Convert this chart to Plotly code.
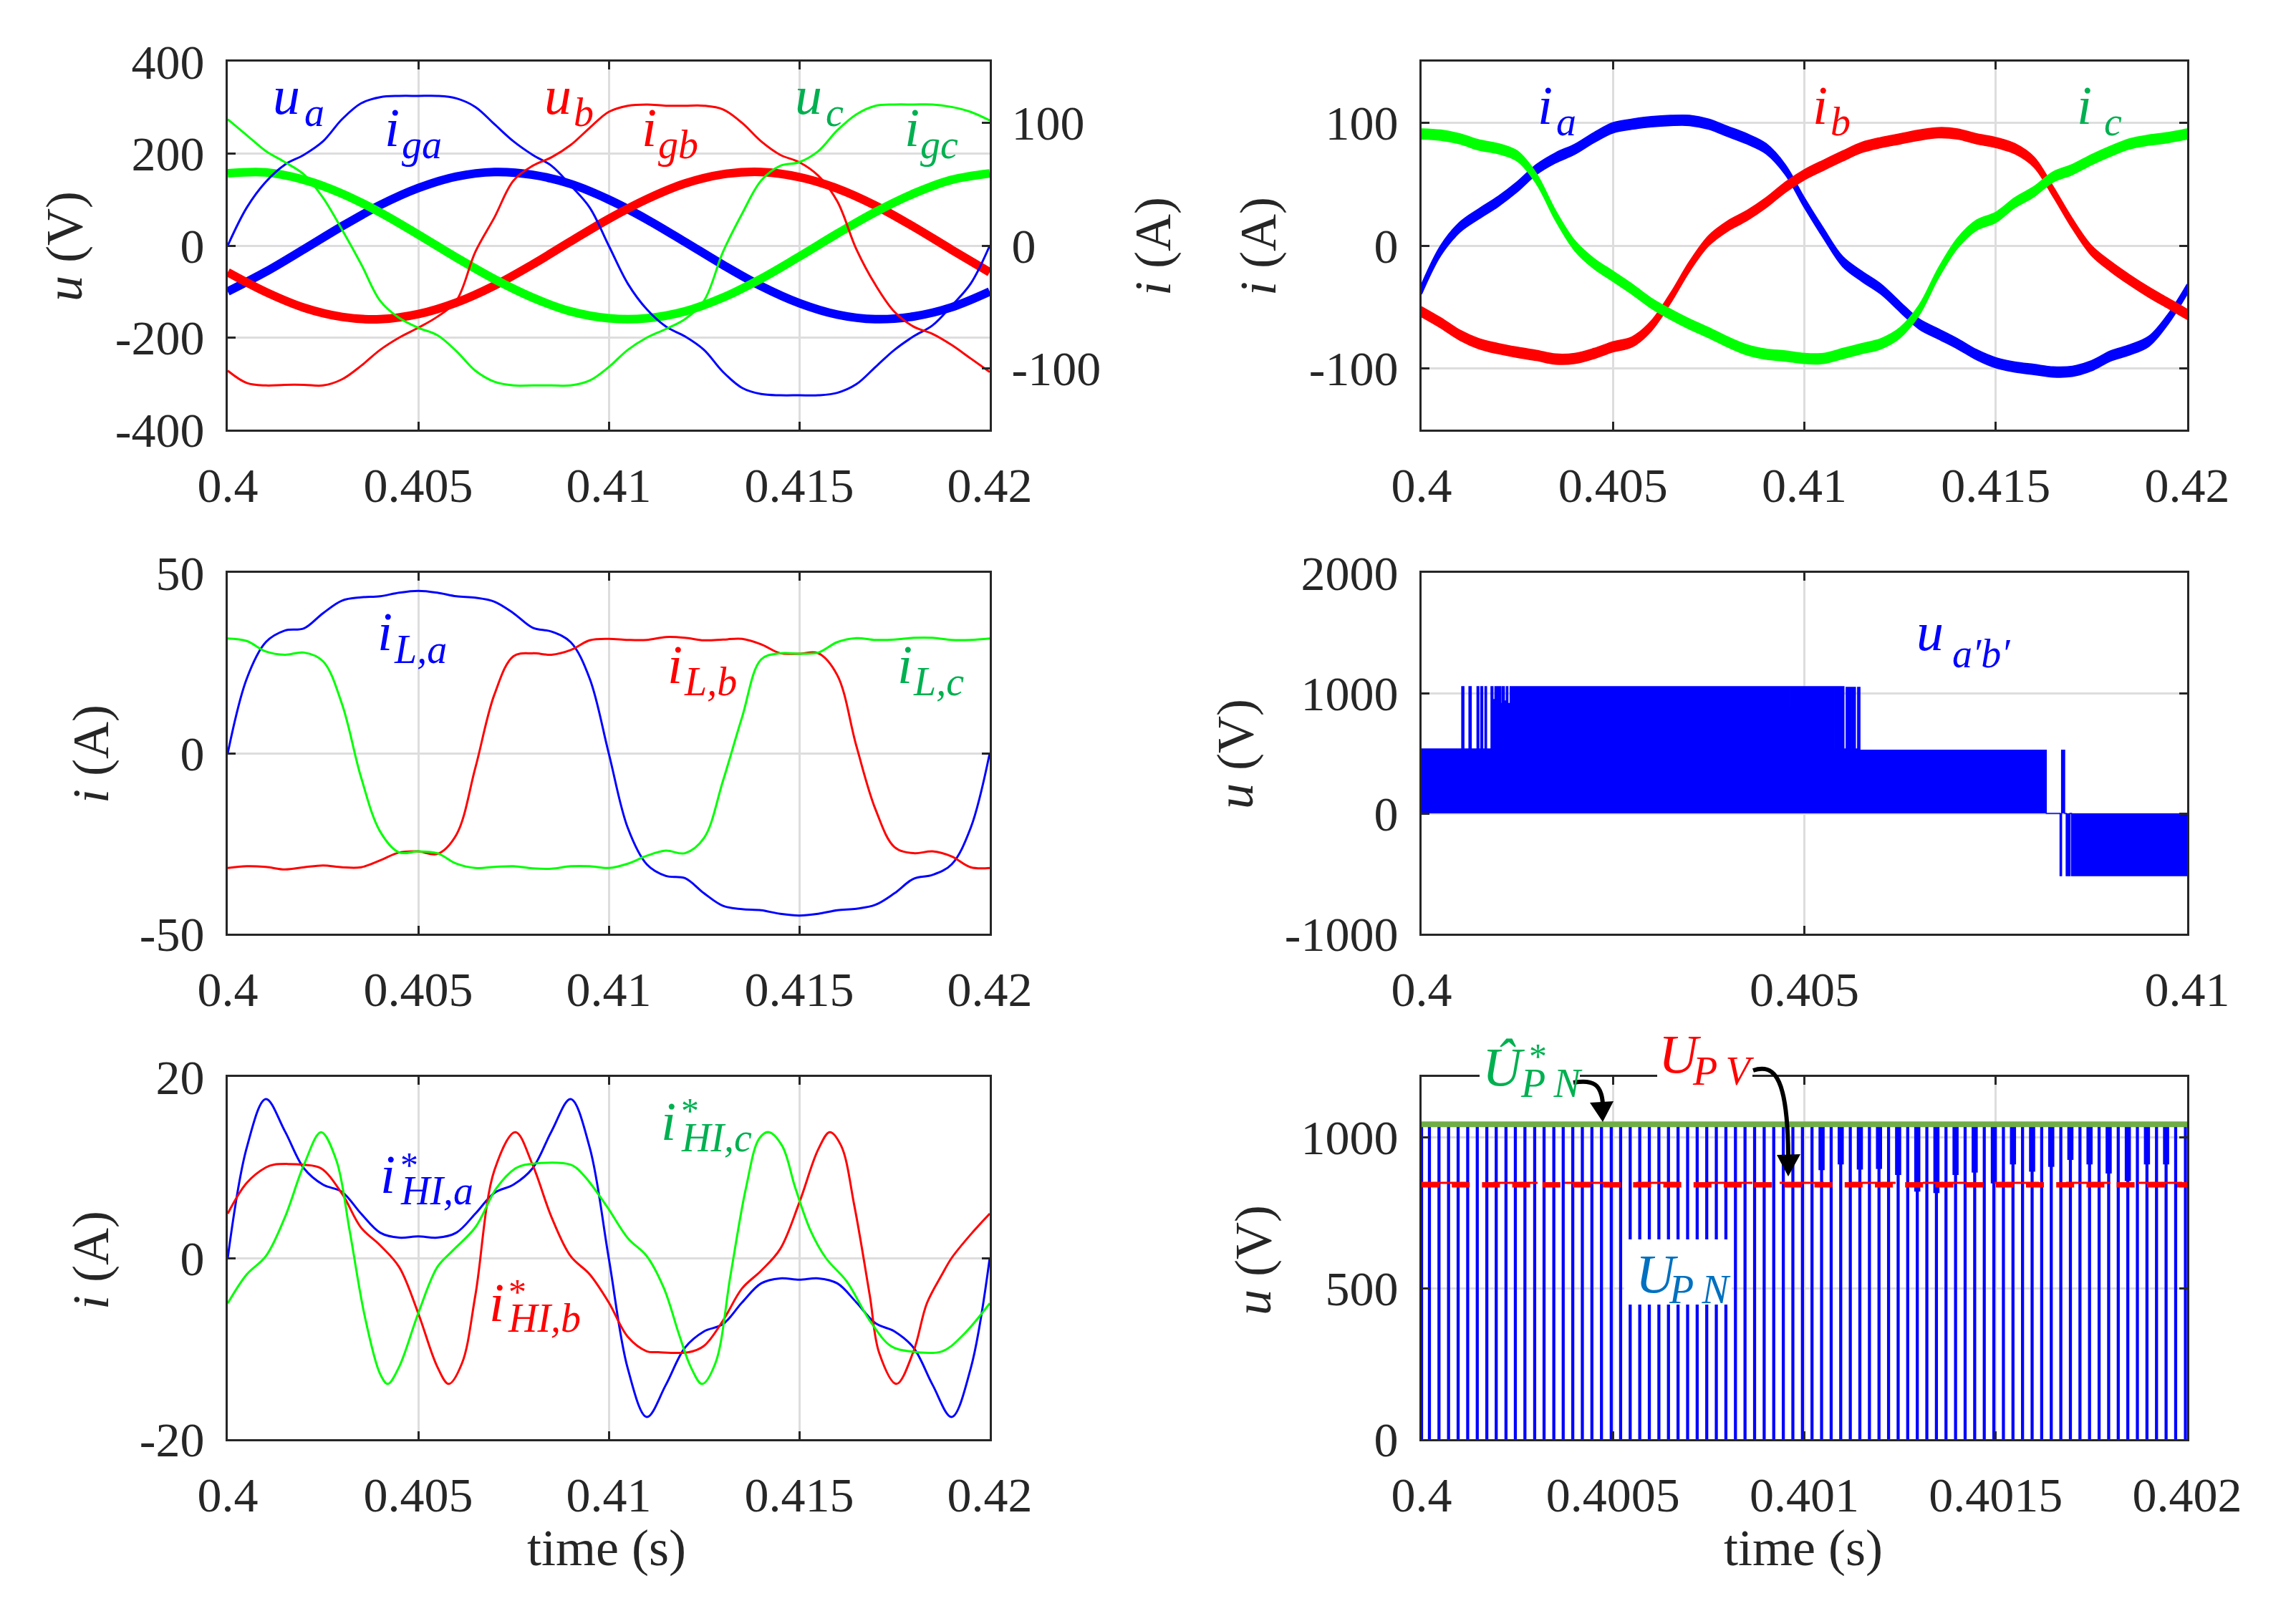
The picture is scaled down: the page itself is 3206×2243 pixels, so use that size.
import numpy as np
import plotly.graph_objects as go

W, H = 3206, 2243
PAGE_MARGIN = 8  # default body margin of the written page
FONT = "Liberation Serif"
INK = "#262626"
GRID = "#dddddd"
BLUE, RED, LIME = "#0000ff", "#ff0000", "#00ff00"
LABEL_GREEN = "#00b050"
LABEL_BLUE = "#0070c0"

t_grid = np.linspace(0.4, 0.42, 41)
t_coarse = np.linspace(0.4, 0.42, 21)

# top left, phase voltages (V)
u_a = [-100, -57, -8, 42, 88, 125, 150, 160, 154, 134, 100, 57, 8, -42, -88, -125, -150, -160, -154, -134, -100]
u_b = [-58, -101, -135, -155, -160, -149, -124, -87, -41, 9, 58, 101, 135, 155, 160, 149, 124, 87, 41, -9, -58]
u_c = [157, 159, 143, 113, 72, 24, -26, -73, -113, -143, -158, -158, -143, -113, -72, -24, 26, 73, 113, 143, 157]

# top left, grid currents (A)
i_ga = [0, 31, 52, 66, 74, 85, 103, 116, 121, 122, 122, 122, 120, 113, 99, 85, 74, 65, 49, 31, 0,
        -31, -52, -66, -74, -85, -103, -116, -121, -122, -122, -122, -120, -113, -99, -85, -74, -65, -49, -31, 0]
i_gb = [-102, -112, -114, -113.5, -113.5, -114, -109, -98, -85, -75, -67, -58, -45, -5, 23, 53, 65, 72, 82, 96, 109,
        114, 115, 114, 114, 114, 111, 100, 85, 74, 68, 57, 36, -3, -32, -54, -66, -72, -81, -92, -103]
i_gc = [103, 90, 77, 68, 58, 39, 13, -15, -45, -59, -67, -73, -86, -102, -111, -114, -114, -114, -114, -110, -99,
        -85, -75, -68, -60, -45, -5, 26, 53, 65, 68, 77, 94, 107, 114, 115, 115, 115, 113, 109, 102]

i_a = [-35.5, -4, 15, 26, 36, 48, 62, 71.5, 78.5, 88, 96, 99, 101, 102, 102, 99, 93, 87, 79, 62, 35,
       10, -13, -25, -35.5, -50, -64, -72, -80, -89, -95.5, -99, -101, -103, -102.5, -98, -90, -85, -78, -60, -35.5]
i_b = [-54, -63, -73, -80, -84, -87, -89.5, -92.5, -92, -88, -82.5, -78.5, -65.5, -43, -17, 4, 16, 24.5, 35, 47.5, 57.7,
       65.5, 73, 80, 84, 87, 90, 92, 91, 87, 84, 79, 68, 44, 18, -4, -17, -28, -38, -47, -56]
i_c = [91, 90, 87, 82, 79, 73, 54.5, 24.5, 0, -14.6, -25, -35.5, -47, -56, -64, -71, -78.6, -85, -88.5, -90, -92,
       -92, -88, -84, -80, -71, -52.5, -22.5, 2, 16.7, 23, 35, 44, 56, 62, 70, 77, 83, 86, 88, 91]
ripple = 4.2

# middle left, inductor currents (A)
i_la = [0, 20.7, 30.8, 34, 34.6, 38.8, 42.3, 43.2, 43.5, 44.5, 45, 44.5, 43.5, 43.1, 42, 38.8, 34.8, 33.7, 30.8, 20.7, 0,
        -20.7, -30.8, -34, -34.6, -38.8, -42.3, -43.2, -43.5, -44.5, -45, -44.5, -43.5, -43.1, -42, -38.8, -34.8, -33.7, -30.8, -20.7, 0]
i_lb = [-31.8, -31.3, -31.5, -32.2, -31.6, -31.1, -31.6, -31.6, -29.7, -27.5, -27.2, -27.9, -22.6, -4, 16.3, 26.9, 27.7, 27.3, 28.6, 31.3, 31.7,
        31.4, 31.4, 32.2, 32, 31.3, 31.5, 31.7, 30.2, 27.7, 27.6, 27.7, 21.6, 2, -15.5, -26, -27.7, -27.2, -28.6, -31.6, -31.8]
i_lc = [31.8, 31.1, 28.2, 27.3, 27.9, 25.5, 13.6, -6.7, -21.7, -27.5, -27.2, -27.7, -30.6, -31.8, -31.5, -31.3, -31.9, -32, -31.3, -31.3, -31.8,
        -30.6, -28.4, -27, -27.7, -23.5, -7.6, 10, 26, 27.7, 27.6, 27.9, 30.8, 31.9, 31.4, 31.5, 32, 32, 31.4, 31.4, 31.8]

# bottom left, harmonic current references (A), each with its own read-off times (ms)
i_hi_a = [0, 12.2, 17.55, 14, 9.9, 8.1, 7.3, 4.9, 2.8, 2.25, 2.4, 2.25, 2.8, 4.9, 7.2, 8.1, 9.9, 14, 17.55, 12.2, 0,
          -12.2, -17.55, -14, -9.9, -8.1, -7.3, -4.9, -2.8, -2.25, -2.4, -2.25, -2.8, -4.9, -7.2, -8.1, -9.9, -14, -17.55, -12.2, 0]
t_hi_b = [0, 0.5, 1, 1.2, 2, 2.45, 3, 3.5, 4, 4.5, 5, 5.5, 5.8, 6.15, 6.5, 7, 7.55, 8, 8.5, 9, 9.5, 10, 10.5, 11, 11.3,
          12.1, 12.5, 13, 13.5, 14, 14.5, 15, 15.5, 15.8, 16.1, 16.45, 16.85, 17.1, 17.55, 18, 18.35, 18.75, 19, 19.5, 20]
i_hi_b = [4.9, 8.3, 10, 10.3, 10.3, 9.9, 7.1, 3.35, 1.4, -1, -6.1, -12, -13.9, -11.6, -4.1, 9.7, 13.9, 10.3, 4.5, 0.2, -1.8, -4.9, -8.7, -10.3, -10.4,
          -10.4, -9.7, -6.9, -3.35, -1.4, 1, 6.1, 12, 13.9, 12.4, 5.7, -4.1, -10.5, -13.9, -10.3, -5, -1.8, 0, 2.6, 4.9]
t_hi_c = [0, 0.5, 1, 1.5, 2, 2.45, 2.85, 3.2, 3.6, 4, 4.2, 4.5, 5, 5.5, 5.9, 6.5, 7.05, 7.55, 7.8, 9, 9.35, 9.95, 10.5, 11, 11.45,
          11.85, 12.15, 12.45, 12.8, 13.2, 13.6, 13.95, 14.2, 14.55, 14.9, 15.3, 15.7, 16.25, 16.85, 17.4, 17.9, 18.75, 19.3, 20]
i_hi_c = [-5, -1.8, 0.2, 4.5, 10.3, 13.9, 10.8, 3, -6.5, -12.8, -13.9, -12, -6.1, -1, 0.8, 3.4, 7.7, 9.9, 10.3, 10.3, 9.1, 5.7, 2.2, 0.2, -3.35,
          -8.5, -12, -13.9, -11.6, -1.8, 7.7, 13.2, 13.9, 12.4, 7.7, 3, 0, -2.6, -6.9, -9.7, -10.3, -10.3, -8.5, -5]

# middle right, inverter voltage envelope (switch time in ms, level in V)
t_uab = [0, 0.525, 0.553, 0.619, 0.649, 0.724, 0.749, 0.774, 0.799, 0.828, 0.849, 0.907, 0.932, 0.958, 0.986, 0.999, 1.036, 1.053,
         1.082, 1.107, 1.128, 1.157, 1.298, 1.307, 4.67, 4.68, 4.817, 4.826, 4.97, 4.98, 5.075, 5.085, 5.222, 5.232, 5.376, 5.39,
         5.517, 5.546, 5.579, 5.592, 5.621, 5.63, 5.667, 5.696, 5.726, 8.16, 8.34, 8.36, 8.40, 8.42, 8.47, 8.49, 10]
u_ab = [535, 1053, 535, 1053, 535, 1053, 535, 1053, 535, 1053, 535, 1053, 946, 1053, 913, 1053, 913, 1053,
        935, 1053, 913, 1053, 752, 1053, 905, 1053, 895, 1053, 978, 1053, 948, 1053, 672, 1053, 532, 1053,
        535, 1047, 535, 1047, 535, 1047, 535, 1047, 525, 0, -518, 525, 0, -518, 0, -518, -518]

# bottom right, DC link pulses: centre times (us after 0.4 s)
t_pulse = [0, 20.5, 45.5, 70.5, 95.5, 120.5, 145.5, 170.5, 195, 220.5, 245, 270, 295.5, 320, 345.5, 370, 395, 420, 445, 470,
           495.5, 520, 545, 570, 595, 620, 645, 670, 695, 720, 745, 770, 795, 820, 845, 870, 895, 920, 945, 970,
           995, 1020, 1045, 1070, 1095, 1120, 1145, 1170, 1195, 1220, 1245, 1270, 1295, 1320, 1345, 1370, 1395, 1420, 1445, 1470,
           1495, 1520, 1545, 1570, 1595, 1620, 1645, 1670, 1695, 1720, 1745, 1770, 1795, 1820, 1845, 1870, 1895, 1920, 1945, 1970, 1995.5]
u_pulse_top = 1040
# wider tops of every second pulse late in the window
t_pulse_wide = [1045, 1095, 1145, 1195, 1245, 1295, 1345, 1395, 1445, 1495, 1545, 1595, 1645, 1695, 1745, 1795, 1845, 1895, 1945]
u_pulse_wide_low = [891, 910, 893, 895, 875, 820, 815, 875, 883, 847, 910, 886, 902, 925, 910, 880, 855, 910, 910]
t_levels = [0.4, 0.40202]
u_pn_ref = [1043, 1043]
u_pv = [842.5, 842.5]
u_pv_thin = [849, 849]

xticks_20ms = [0.4, 0.405, 0.41, 0.415, 0.42]
xtext_20ms = ["0.4", "0.405", "0.41", "0.415", "0.42"]
xticks_10ms = [0.4, 0.405, 0.41]
xtext_10ms = ["0.4", "0.405", "0.41"]
xticks_2ms = [0.4, 0.4005, 0.401, 0.4015, 0.402]
xtext_2ms = ["0.4", "0.4005", "0.401", "0.4015", "0.402"]


def px_x(x):
    return (x - PAGE_MARGIN) / W


def px_y(y):
    return 1 - (y - PAGE_MARGIN) / H


def axis_style():
    return dict(
        showline=True, linecolor=INK, linewidth=3,
        ticks="inside", ticklen=11, tickwidth=3, tickcolor=INK,
        showgrid=True, gridcolor=GRID, gridwidth=3, zeroline=False,
        tickfont=dict(family=FONT, size=68, color=INK),
        automargin=False,
    )


panels = {
    "": (318, 1382, 86, 600, [0.4, 0.42], xticks_20ms, xtext_20ms, [-400, 400], [-400, -200, 0, 200, 400]),
    "2": (1985, 3054, 86, 600, [0.4, 0.42], xticks_20ms, xtext_20ms, [-150, 150], [-100, 0, 100]),
    "3": (318, 1382, 800, 1304, [0.4, 0.42], xticks_20ms, xtext_20ms, [-50, 50], [-50, 0, 50]),
    "4": (1985, 3054, 800, 1304, [0.4, 0.41], xticks_10ms, xtext_10ms, [-1000, 2000], [-1000, 0, 1000, 2000]),
    "5": (318, 1382, 1504, 2010, [0.4, 0.42], xticks_20ms, xtext_20ms, [-20, 20], [-20, 0, 20]),
    "6": (1985, 3054, 1504, 2010, [0.4, 0.402], xticks_2ms, xtext_2ms, [0, 1200], [0, 500, 1000]),
}

layout = dict(
    width=W, height=H, autosize=False,
    margin=dict(l=0, r=0, t=0, b=0, pad=0),
    paper_bgcolor="white", plot_bgcolor="white",
    showlegend=False, barmode="overlay",
)

for key, (x0, x1, y0, y1, xr, xt, xtt, yr, yt) in panels.items():
    xa = axis_style()
    xa.update(domain=[px_x(x0), px_x(x1)], range=xr, tickvals=xt, ticktext=xtt,
              anchor="y" + key, mirror="ticks", ticklabelstandoff=16)
    ya = axis_style()
    ya.update(domain=[px_y(y1), px_y(y0)], range=yr, tickvals=yt, ticktext=[str(v) for v in yt],
              anchor="x" + key, mirror="ticks", ticklabelstandoff=16)
    layout["xaxis" + key] = xa
    layout["yaxis" + key] = ya

# first panel has its own right axis for the currents
layout["yaxis"]["mirror"] = True
y7 = axis_style()
y7.update(domain=layout["yaxis"]["domain"], range=[-150, 150], tickvals=[-100, 0, 100],
          ticktext=["-100", "0", "100"], overlaying="y", side="right", anchor="x",
          showgrid=False, ticklabelstandoff=14)
layout["yaxis7"] = y7

fig = go.Figure()


def curve(x, y, color, width, xa="x", ya="y"):
    fig.add_trace(go.Scatter(x=x, y=y, mode="lines", xaxis=xa, yaxis=ya,
                             line=dict(color=color, width=width, shape="spline", smoothing=1.0)))


def band(x, y, color, xa, ya):
    low = np.array(y, dtype=float) - ripple
    high = np.array(y, dtype=float) + ripple
    fig.add_trace(go.Scatter(x=x, y=low, mode="lines", xaxis=xa, yaxis=ya,
                             line=dict(color=color, width=1.5, shape="spline", smoothing=1.0)))
    fig.add_trace(go.Scatter(x=x, y=high, mode="lines", xaxis=xa, yaxis=ya, fill="tonexty", fillcolor=color,
                             line=dict(color=color, width=1.5, shape="spline", smoothing=1.0)))


for y, c in [(u_a, BLUE), (u_b, RED), (u_c, LIME)]:
    curve(t_coarse, y, c, 12)
for y, c in [(i_ga, BLUE), (i_gb, RED), (i_gc, LIME)]:
    curve(t_grid, y, c, 3, "x", "y7")

for y, c in [(i_a, BLUE), (i_b, RED), (i_c, LIME)]:
    band(t_grid, y, c, "x2", "y2")

for y, c in [(i_la, BLUE), (i_lb, RED), (i_lc, LIME)]:
    curve(t_grid, y, c, 3, "x3", "y3")

curve(t_grid, i_hi_a, BLUE, 3, "x5", "y5")
curve(0.4 + np.array(t_hi_b) / 1000, i_hi_b, RED, 3, "x5", "y5")
curve(0.4 + np.array(t_hi_c) / 1000, i_hi_c, LIME, 3, "x5", "y5")

# switching voltage, drawn as a stepped filled envelope
fig.add_trace(go.Scatter(x=0.4 + np.array(t_uab) / 1000, y=u_ab, mode="lines", xaxis="x4", yaxis="y4",
                         fill="tozeroy", fillcolor=BLUE, line=dict(color=BLUE, width=1.5, shape="hv")))

# DC link pulses
fig.add_trace(go.Bar(x=0.4 + np.array(t_pulse) / 1e6, y=[u_pulse_top] * len(t_pulse), width=8e-6,
                     xaxis="x6", yaxis="y6", marker=dict(color=BLUE, line=dict(width=0))))
fig.add_trace(go.Bar(x=0.4 + np.array(t_pulse_wide) / 1e6, y=[u_pulse_top - v for v in u_pulse_wide_low],
                     base=u_pulse_wide_low, width=16e-6,
                     xaxis="x6", yaxis="y6", marker=dict(color=BLUE, line=dict(width=0))))
fig.add_trace(go.Scatter(x=t_levels, y=u_pv_thin, mode="lines", xaxis="x6", yaxis="y6",
                         line=dict(color=RED, width=3, dash="62px,38px")))
fig.add_trace(go.Scatter(x=t_levels, y=u_pv, mode="lines", xaxis="x6", yaxis="y6",
                         line=dict(color=RED, width=7.5, dash="25px,17.2px")))
fig.add_trace(go.Scatter(x=t_levels, y=u_pn_ref, mode="lines", xaxis="x6", yaxis="y6", cliponaxis=False,
                         line=dict(color="#70ad47", width=8)))

annotations = []


def label(text, cx, baseline, size, color):
    annotations.append(dict(
        text=text, xref="paper", yref="paper", x=px_x(cx), y=px_y(baseline - 0.335 * size),
        xanchor="center", yanchor="middle", showarrow=False,
        font=dict(family=FONT, size=size, color=color),
    ))


def ylabel(text, cx, cy):
    annotations.append(dict(
        text=text, xref="paper", yref="paper", x=px_x(cx), y=px_y(cy), textangle=-90,
        xanchor="center", yanchor="middle", showarrow=False,
        font=dict(family=FONT, size=72, color=INK),
    ))


BASE, SUB = 76, 56

# base letter and subscript are placed apart, the subscripts sit lower than <sub> would put them
for base_text, sub_text, color, bx, by, sx, sy in [
    ("u", "a", BLUE, 400, 158, 439, 176),
    ("u", "b", RED, 779, 158, 815, 176),
    ("u", "c", LABEL_GREEN, 1129, 158, 1165, 176),
    ("i", "ga", BLUE, 547, 203, 589, 221),
    ("i", "gb", RED, 906, 203, 947, 221),
    ("i", "gc", LABEL_GREEN, 1273, 203, 1311, 221),
    ("i", "a", BLUE, 2157, 172, 2187, 189),
    ("i", "b", RED, 2541, 172, 2570, 189),
    ("i", "c", LABEL_GREEN, 2910, 172, 2950, 189),
    ("i", "L,a", BLUE, 537, 907, 587, 926),
    ("i", "L,b", RED, 942, 953, 992, 971),
    ("i", "L,c", LABEL_GREEN, 1263, 953, 1310, 971),
    ("u", "a\u2032b\u2032", BLUE, 2695, 907, 2766, 932),
    ("i", "HI,a", BLUE, 541, 1665, 610, 1682),
    ("i", "HI,b", RED, 693, 1844, 760, 1860),
    ("i", "HI,c", LABEL_GREEN, 933, 1591, 1000, 1608),
    ("\u00db", "P\u2009N", LABEL_GREEN, 2099, 1515, 2166, 1532),
    ("U", "P\u2009V", RED, 2345, 1497, 2406, 1515),
    ("U", "P\u2009N", LABEL_BLUE, 2313, 1804, 2373, 1820),
]:
    label("<i>%s</i>" % base_text, bx, by, BASE, color)
    label("<i>%s</i>" % sub_text, sx, sy, SUB, color)

# stars stacked over the subscripts
for cx, base, color in [(571, 1644, BLUE), (722, 1821, RED), (964, 1568, LABEL_GREEN), (2147, 1492, LABEL_GREEN)]:
    label("*", cx, base, 50, color)

ylabel("<i>u</i> (V)", 90, 344)
ylabel("<i>i</i> (A)", 1610, 344)
ylabel("<i>i</i> (A)", 1757, 344)
ylabel("<i>i</i> (A)", 127, 1053)
ylabel("<i>u</i> (V)", 1725, 1053)
ylabel("<i>i</i> (A)", 127, 1760)
ylabel("<i>u</i> (V)", 1750, 1760)
label("time (s)", 847, 2186, 72, INK)
label("time (s)", 2518, 2186, 72, INK)


def white_box(x0, y0, x1, y1):
    return dict(type="rect", xref="paper", yref="paper", layer="above", line=dict(width=0), fillcolor="white",
                x0=px_x(x0), x1=px_x(x1), y0=px_y(y1), y1=px_y(y0))


def path_px(points):
    parts = []
    for cmd, *xy in points:
        coords = " ".join("%.5f,%.5f" % (px_x(xy[i]), px_y(xy[i + 1])) for i in range(0, len(xy), 2))
        parts.append(cmd + " " + coords)
    return " ".join(parts)


def arrow_shapes(tail, head):
    return [
        dict(type="path", xref="paper", yref="paper", layer="above", path=path_px(tail),
             line=dict(color="black", width=6)),
        dict(type="path", xref="paper", yref="paper", layer="above", path=path_px(head) + " Z",
             fillcolor="black", line=dict(color="black", width=0)),
    ]


shapes = [
    white_box(2066, 1440, 2206, 1530),
    white_box(2314, 1440, 2447, 1530),
    white_box(2268, 1731, 2418, 1822),
]
shapes += arrow_shapes(
    [("M", 2197, 1512), ("C", 2225, 1507, 2236, 1515, 2238, 1541)],
    [("M", 2220, 1540), ("L", 2253, 1538), ("L", 2238, 1567)],
)
shapes += arrow_shapes(
    [("M", 2448, 1495), ("C", 2480, 1484, 2496, 1510, 2497, 1613)],
    [("M", 2481, 1613), ("L", 2514, 1612), ("L", 2497, 1643)],
)

layout["annotations"] = annotations
layout["shapes"] = shapes
fig.update_layout(**layout)

fig.write_html("out.html")
